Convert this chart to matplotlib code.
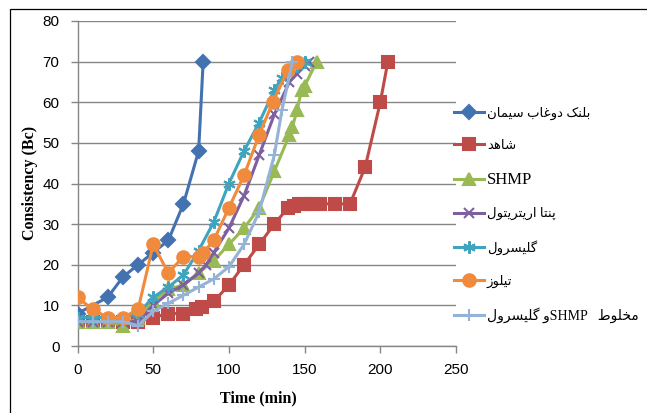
import matplotlib
matplotlib.use("Agg")
import matplotlib.pyplot as plt

# ---------------- data ----------------
blank_x = [0, 20, 30, 40, 50, 60, 70, 80, 83]
blank_y = [8, 12, 17, 20, 23, 26, 35, 48, 70]

control_x = [0, 10, 20, 30, 40, 50, 60, 70, 78, 82, 90, 100, 110, 120, 130, 139, 143, 146, 150, 155, 160, 170, 180, 190, 200, 205]
control_y = [6, 6, 6, 6, 6, 7, 8, 8, 9, 9.5, 11, 15, 20, 25, 30, 34, 34.5, 35, 35, 35, 35, 35, 35, 44, 60, 70]

shmp_x = [0, 10, 20, 30, 40, 50, 60, 70, 80, 90, 100, 110, 120, 130, 140, 142, 145, 148, 150, 158]
shmp_y = [6, 6, 6, 5, 7, 11, 14, 15, 18, 21, 25, 29, 34, 43, 52, 54, 58, 63, 64, 70]

penta_x = [0, 10, 20, 30, 40, 50, 60, 70, 80, 85, 90, 100, 110, 120, 130, 140, 145, 150, 153]
penta_y = [6, 6, 6, 6, 6, 10, 13, 15, 18, 20, 23, 29, 37, 47, 57, 65, 67, 69, 70]

glyc_x = [0, 10, 20, 30, 40, 50, 60, 70, 80, 90, 100, 110, 120, 130, 135, 140, 145, 150]
glyc_y = [7, 7, 7, 7, 8, 12, 14.5, 17.5, 23.5, 30.5, 40, 48, 55, 63, 66, 68, 69, 70]

tylose_x = [0, 10, 20, 30, 40, 50, 60, 70, 80, 83, 90, 100, 110, 120, 129, 139, 145]
tylose_y = [12, 9, 7, 7, 9, 25, 18, 22, 22, 23, 26, 34, 42, 52, 60, 68, 70]

mix_x = [0, 10, 20, 30, 40, 50, 60, 70, 80, 90, 100, 110, 120, 130, 135, 142]
mix_y = [6, 6, 6, 6, 5, 8.5, 10.5, 12.5, 14.5, 16.5, 19.5, 25, 33, 47, 58, 70]

x_ticks = [0, 50, 100, 150, 200, 250]
y_ticks = [0, 10, 20, 30, 40, 50, 60, 70, 80]

label_blank = "بلنک دوغاب سیمان"
label_control = "شاهد"
label_shmp = "SHMP"
label_penta = "پنتا اریتریتول"
label_glyc = "گلیسرول"
label_tylose = "تیلوز"
label_mix_a = "مخلوط"
label_mix_b = "SHMP"
label_mix_c = "و گلیسرول"

# ---------------- minimal Persian shaping (no complex text layout in matplotlib) ----------------
FORMS = {
    'ا': (0xFE8D, 0xFE8E, None, None),
    'ب': (0xFE8F, 0xFE90, 0xFE91, 0xFE92),
    'پ': (0xFB56, 0xFB57, 0xFB58, 0xFB59),
    'ت': (0xFE95, 0xFE96, 0xFE97, 0xFE98),
    'خ': (0xFEA5, 0xFEA6, 0xFEA7, 0xFEA8),
    'د': (0xFEA9, 0xFEAA, None, None),
    'ر': (0xFEAD, 0xFEAE, None, None),
    'ز': (0xFEAF, 0xFEB0, None, None),
    'س': (0xFEB1, 0xFEB2, 0xFEB3, 0xFEB4),
    'ش': (0xFEB5, 0xFEB6, 0xFEB7, 0xFEB8),
    'ط': (0xFEC1, 0xFEC2, 0xFEC3, 0xFEC4),
    'غ': (0xFECD, 0xFECE, 0xFECF, 0xFED0),
    'ک': (0xFB8E, 0xFB8F, 0xFB90, 0xFB91),
    'گ': (0xFB92, 0xFB93, 0xFB94, 0xFB95),
    'ل': (0xFEDD, 0xFEDE, 0xFEDF, 0xFEE0),
    'م': (0xFEE1, 0xFEE2, 0xFEE3, 0xFEE4),
    'ن': (0xFEE5, 0xFEE6, 0xFEE7, 0xFEE8),
    'ه': (0xFEE9, 0xFEEA, 0xFEEB, 0xFEEC),
    'و': (0xFEED, 0xFEEE, None, None),
    'ی': (0xFBFC, 0xFBFD, 0xFBFE, 0xFBFF),
}


def shape_rtl(text):
    out = []
    n = len(text)
    for i, c in enumerate(text):
        if c not in FORMS:
            out.append(c)
            continue
        f = FORMS[c]
        prev_c = text[i - 1] if i > 0 else None
        next_c = text[i + 1] if i + 1 < n else None
        pj = prev_c in FORMS and FORMS[prev_c][2] is not None
        nj = next_c in FORMS and f[2] is not None
        if pj and nj:
            code = f[3]
        elif pj:
            code = f[1]
        elif nj:
            code = f[2]
        else:
            code = f[0]
        out.append(chr(code))
    return "".join(reversed(out))


vis_blank = shape_rtl(label_blank)
vis_control = shape_rtl(label_control)
vis_penta = shape_rtl(label_penta)
vis_glyc = shape_rtl(label_glyc)
vis_tylose = shape_rtl(label_tylose)
vis_mix = shape_rtl(label_mix_c) + label_mix_b + "   " + shape_rtl(label_mix_a)

# ---------------- figure ----------------
fig = plt.figure(figsize=(6.47, 4.13), dpi=100)
ax = fig.add_axes([77.5 / 647, 1 - 346 / 413, (456 - 77.5) / 647, (346 - 21) / 413])

# outer chart frame
fig.add_artist(plt.Rectangle((10 / 647, -0.1), 2, 1 - 9 / 413 + 0.1, transform=fig.transFigure,
                             fill=False, edgecolor="black", linewidth=0.9))

lw = 2.2
series = [
    (blank_x, blank_y, "#4372B0", "D", 7, vis_blank),
    (control_x, control_y, "#BE4B48", "s", 8, vis_control),
    (shmp_x, shmp_y, "#98B954", "^", 9, label_shmp),
    (penta_x, penta_y, "#7D60A0", "x", 7, vis_penta),
    (glyc_x, glyc_y, "#40A4BE", (6, 2, 0), 9, vis_glyc),
    (tylose_x, tylose_y, "#F08A3C", "o", 9, vis_tylose),
    (mix_x, mix_y, "#95B3D7", "+", 9, vis_mix),
]

handles = []
for xs, ys, col, mk, ms, lab in series:
    h, = ax.plot(xs, ys, color=col, marker=mk, markersize=ms, linewidth=lw,
                 markeredgewidth=1.5, markeredgecolor=col, markerfacecolor=col,
                 solid_joinstyle="round", label=lab, zorder=3)
    handles.append(h)

ax.set_xlim(0, 250)
ax.set_ylim(0, 80)
ax.set_xticks(x_ticks)
ax.set_yticks(y_ticks)
ax.set_xticklabels([str(v) for v in x_ticks])
ax.set_yticklabels([str(v) for v in y_ticks])

gray = "#868686"
ax.yaxis.grid(True, color=gray, linewidth=1.0)
ax.set_axisbelow(True)
for s in ["top", "right"]:
    ax.spines[s].set_visible(False)
for s in ["left", "bottom"]:
    ax.spines[s].set_color(gray)
    ax.spines[s].set_linewidth(1.0)
ax.tick_params(axis="both", direction="out", length=5, color=gray, width=1.0,
               labelsize=11, labelcolor="black")
ax.tick_params(axis="x", pad=7)
ax.tick_params(axis="y", pad=8)
for t in ax.get_xticklabels() + ax.get_yticklabels():
    t.set_fontfamily(["Liberation Sans", "DejaVu Sans"])

fig.text(258 / 647, 1 - 398 / 413, "Time (min)", ha="center", va="center",
         fontsize=11.5, fontweight="bold", family="Liberation Serif")
fig.text(30 / 647, 1 - 183 / 413, "Consistency (Bc)", ha="center", va="center",
         rotation=90, fontsize=11.5, fontweight="bold", family="Liberation Serif")

leg = fig.legend(handles=handles, loc="upper left", bbox_to_anchor=(442 / 647, 1 - 95 / 413),
                 frameon=False, handlelength=2.3, handletextpad=0.2, labelspacing=1.49,
                 prop={"family": ["Liberation Serif", "DejaVu Sans"], "size": 9.5})
for t in leg.get_texts():
    t.set_fontfamily(["Liberation Serif", "DejaVu Sans"])
leg.get_texts()[2].set_fontsize(12)
leg.get_texts()[6].set_fontsize(10)

fig.savefig("out.png", dpi=100)
